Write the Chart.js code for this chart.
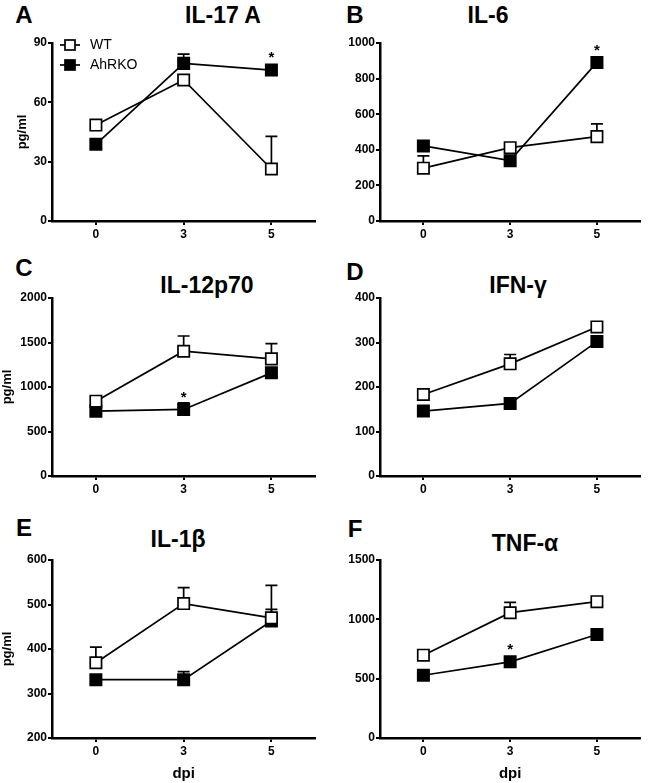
<!DOCTYPE html>
<html>
<head>
<meta charset="utf-8">
<script src="https://cdn.jsdelivr.net/npm/chart.js@4.4.1/dist/chart.umd.min.js"></script>
<style>
  body { margin: 0; background: #fff; font-family: "Liberation Sans", Arial, sans-serif; }
  #wrap { position: relative; width: 650px; height: 783px; overflow: hidden; }
  .pan { position: absolute; width: 325px; height: 266px; }
  .lbl { position: absolute; font-weight: bold; transform: translate(-50%, -50%); white-space: nowrap; color: #000; }
  .let { font-size: 24px; }
  .ttl { font-size: 23px; }
</style>
</head>
<body>
<div id="wrap">
  <div class="lbl let" style="left:24px;top:15px">A</div>
  <div class="lbl ttl" style="left:223px;top:15px">IL-17 A</div>
  <div class="lbl let" style="left:355px;top:15px">B</div>
  <div class="lbl ttl" style="left:488px;top:15px">IL-6</div>
  <div class="lbl let" style="left:24px;top:268px">C</div>
  <div class="lbl ttl" style="left:207px;top:285px">IL-12p70</div>
  <div class="lbl let" style="left:355px;top:272px">D</div>
  <div class="lbl ttl" style="left:518px;top:285px">IFN-γ</div>
  <div class="lbl let" style="left:24px;top:528px">E</div>
  <div class="lbl ttl" style="left:178px;top:539px">IL-1β</div>
  <div class="lbl let" style="left:355px;top:529px">F</div>
  <div class="lbl ttl" style="left:525px;top:543px">TNF-α</div>

  <div class="pan" style="left:0;top:0"><canvas id="cA"></canvas></div>
  <div class="pan" style="left:325px;top:0"><canvas id="cB"></canvas></div>
  <div class="pan" style="left:0;top:255px"><canvas id="cC"></canvas></div>
  <div class="pan" style="left:325px;top:255px"><canvas id="cD"></canvas></div>
  <div class="pan" style="left:0;top:517px"><canvas id="cE"></canvas></div>
  <div class="pan" style="left:325px;top:517px"><canvas id="cF"></canvas></div>
</div>
<script>
var dpi = ['0', '3', '5'];

// IL-17 A
var wtA = [48.5, 71.3, 26.3];
var wtASem = [0, 0, 16.5];
var koA = [38.8, 79.7, 76.3];
var koASem = [0, 4.7, 0];
var starA = ['', '', '*'];
// IL-6
var wtB = [297, 412, 474];
var wtBSem = [69, 0, 72];
var koB = [422, 339, 891];
var koBSem = [0, 0, 0];
var starB = ['', '', '*'];
// IL-12p70
var wtC = [841, 1402, 1316];
var wtCSem = [0, 171, 172];
var koC = [729, 748, 1159];
var koCSem = [0, 74, 0];
var starC = ['', '*', ''];
// IFN-g
var wtD = [183, 252, 335];
var wtDSem = [0, 21, 0];
var koD = [146, 163, 302];
var koDSem = [0, 0, 0];
var starD = ['', '', ''];
// IL-1b
var wtE = [369, 502, 470];
var wtESem = [35, 36, 73];
var koE = [331, 331, 463];
var koESem = [0, 18, 26];
var starE = ['', '', ''];
// TNF-a
var wtF = [698, 1056, 1149];
var wtFSem = [0, 87, 0];
var koF = [529, 642, 872];
var koFSem = [0, 0, 0];
var starF = ['', '*', ''];

var FONT = '"Liberation Sans", Arial, sans-serif';
Chart.defaults.font.family = FONT;
Chart.defaults.color = '#000';

// error bars (upward only), drawn under the markers; stars on top
var errorBars = {
  id: 'errorBars',
  beforeDatasetsDraw: function (chart) {
    var ctx = chart.ctx, y = chart.scales.y;
    ctx.save();
    ctx.strokeStyle = '#000';
    ctx.lineWidth = 1.7;
    chart.data.datasets.forEach(function (ds, i) {
      var meta = chart.getDatasetMeta(i);
      meta.data.forEach(function (pt, j) {
        var s = ds.sem[j];
        if (!s) return;
        var top = y.getPixelForValue(ds.data[j] + s);
        ctx.beginPath();
        ctx.moveTo(pt.x, pt.y);
        ctx.lineTo(pt.x, top);
        ctx.moveTo(pt.x - 6, top);
        ctx.lineTo(pt.x + 6, top);
        ctx.stroke();
      });
    });
    ctx.restore();
  },
  afterDatasetsDraw: function (chart) {
    var ctx = chart.ctx;
    ctx.save();
    ctx.fillStyle = '#000';
    ctx.font = 'bold 15px ' + FONT;
    ctx.textAlign = 'center';
    ctx.textBaseline = 'middle';
    chart.data.datasets.forEach(function (ds, i) {
      if (!ds.stars) return;
      var meta = chart.getDatasetMeta(i);
      meta.data.forEach(function (pt, j) {
        if (ds.stars[j]) ctx.fillText(ds.stars[j], pt.x, pt.y - 12);
      });
    });
    ctx.restore();
  }
};

var legendA = {
  id: 'legendA',
  afterDraw: function (chart) {
    var ctx = chart.ctx;
    ctx.save();
    chart.data.datasets.forEach(function (ds, i) {
      var yy = 45 + i * 20;
      ctx.strokeStyle = '#000';
      ctx.lineWidth = 1.7;
      ctx.beginPath();
      ctx.moveTo(60, yy);
      ctx.lineTo(80, yy);
      ctx.stroke();
      ctx.fillStyle = ds.pointBackgroundColor;
      ctx.fillRect(65, yy - 5, 10, 10);
      ctx.strokeRect(65, yy - 5, 10, 10);
      ctx.fillStyle = '#000';
      ctx.font = '14px ' + FONT;
      ctx.textBaseline = 'middle';
      ctx.fillText(ds.label, 90, yy);
    });
    ctx.restore();
  }
};

function panel(id, wt, wtSem, ko, koSem, stars, ymin, ymax, step, left, yTitle, yPad, xTitle) {
  var plugins = [errorBars];
  if (id === 'cA') plugins.push(legendA);
  new Chart(id, {
    type: 'line',
    data: {
      labels: dpi,
      datasets: [
        { label: 'WT', data: wt, sem: wtSem, borderColor: '#000', borderWidth: 1.7,
          pointStyle: 'rect', pointRadius: 8, pointHoverRadius: 8, pointBorderWidth: 1.7,
          pointBackgroundColor: '#fff', pointBorderColor: '#000', clip: false },
        { label: 'AhRKO', data: ko, sem: koSem, stars: stars, borderColor: '#000', borderWidth: 1.7,
          pointStyle: 'rect', pointRadius: 8, pointHoverRadius: 8, pointBorderWidth: 1.7,
          pointBackgroundColor: '#000', pointBorderColor: '#000', clip: false }
      ]
    },
    options: {
      responsive: false,
      animation: false,
      devicePixelRatio: 1,
      layout: { padding: { top: 43, right: left ? 3 : 0, left: 0, bottom: 0 } },
      plugins: { legend: { display: false }, tooltip: { enabled: false } },
      scales: {
        x: {
          type: 'category',
          offset: true,
          afterFit: function (s) { s.height = 45; },
          border: { display: true, color: '#000', width: 2.5 },
          grid: { display: true, drawOnChartArea: false, drawTicks: true, tickLength: 4, color: '#000', lineWidth: 2, offset: false },
          ticks: { font: { size: 12, weight: 'bold' }, padding: 2, color: '#000' },
          title: { display: !!xTitle, text: xTitle || '', font: { size: 15, weight: 'bold' }, color: '#000', padding: 0 }
        },
        y: {
          min: ymin, max: ymax,
          afterFit: function (s) { s.width = left ? 52 : 55; },
          border: { display: true, color: '#000', width: 2.5 },
          grid: { display: true, drawOnChartArea: false, drawTicks: true, tickLength: 4, color: '#000', lineWidth: 2 },
          ticks: { stepSize: step, font: { size: 12, weight: 'bold' }, padding: 1, color: '#000',
                   callback: function (v) { return String(v); } },
          title: { display: !!yTitle, text: yTitle || '', font: { size: 13, weight: 'bold' }, color: '#000', padding: { top: yPad, bottom: 0 } }
        }
      }
    },
    plugins: plugins
  });
}

['cA', 'cB', 'cC', 'cD', 'cE', 'cF'].forEach(function (id) {
  var c = document.getElementById(id);
  c.width = 325; c.height = 266;
  c.style.width = '325px'; c.style.height = '266px';
});

panel('cA', wtA, wtASem, koA, koASem, starA, 0, 90, 30, true, 'pg/ml', 15, '');
panel('cB', wtB, wtBSem, koB, koBSem, starB, 0, 1000, 200, false, '', 0, '');
panel('cC', wtC, wtCSem, koC, koCSem, starC, 0, 2000, 500, true, 'pg/ml', 0, '');
panel('cD', wtD, wtDSem, koD, koDSem, starD, 0, 400, 100, false, '', 0, '');
panel('cE', wtE, wtESem, koE, koESem, starE, 200, 600, 100, true, 'pg/ml', 0, 'dpi');
panel('cF', wtF, wtFSem, koF, koFSem, starF, 0, 1500, 500, false, '', 0, 'dpi');
</script>
</body>
</html>
